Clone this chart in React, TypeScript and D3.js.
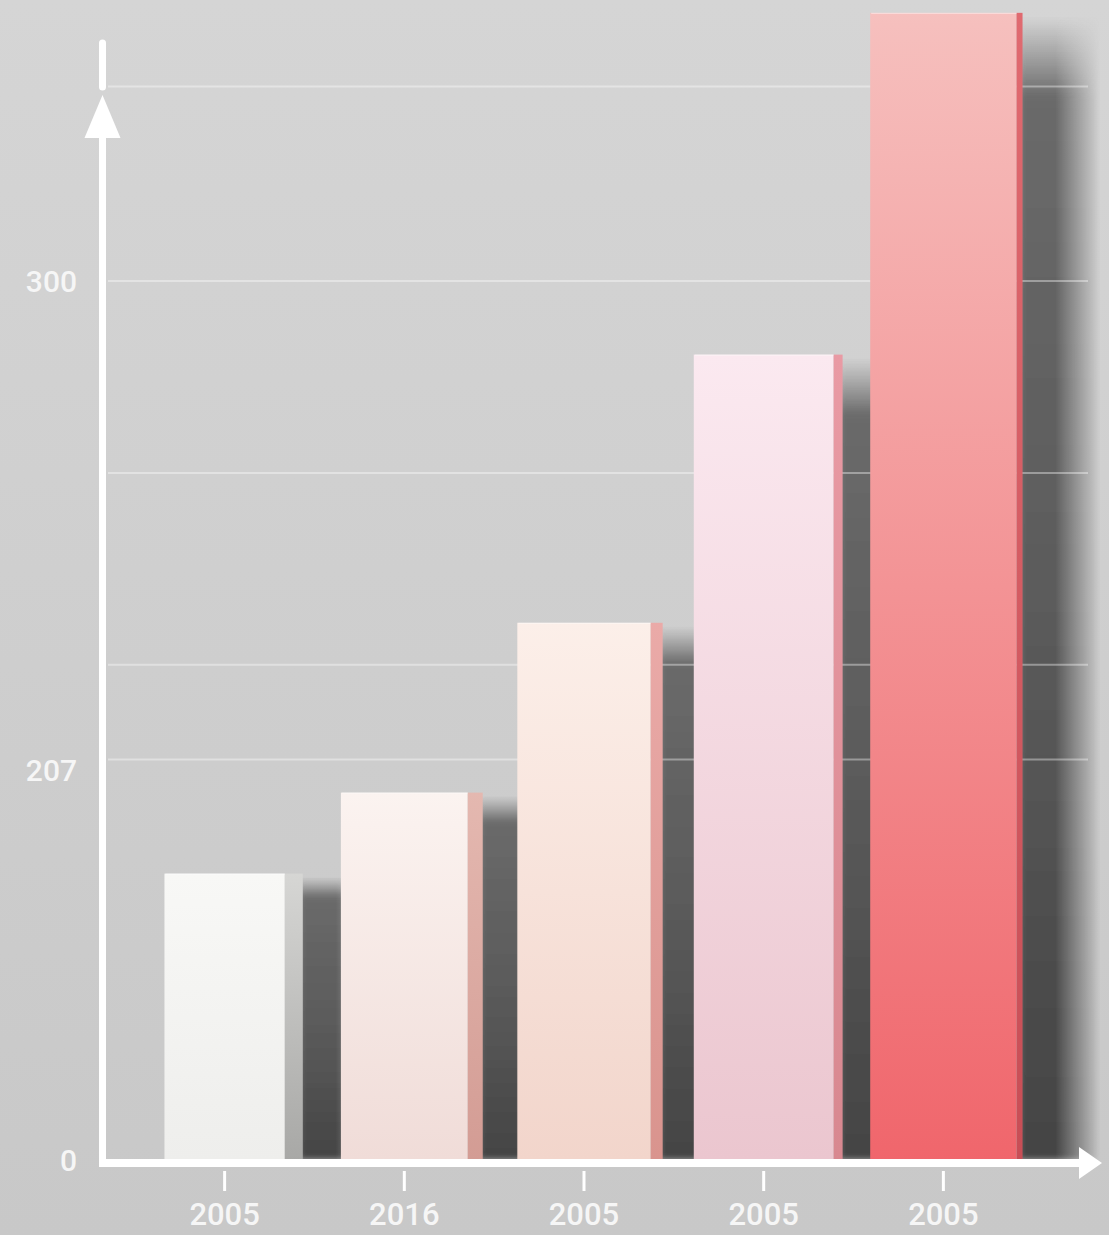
import React from 'react';
import * as d3 from 'd3';

// ---- data ----
const categories = ['2005', '2016', '2005', '2005', '2005'];
const values = [152, 195, 235, 286, 351];
const yTickValues = [0, 207, 300];
const yTickLabels = ['0', '207', '300'];
const gridValues = [209, 227, 263.5, 300, 337];

// ---- colours ----
const frontTop = ['#f8f8f6', '#fbf3f0', '#fcefe9', '#fbe9f0', '#f6c0be'];
const frontBottom = ['#eeeeec', '#f0dcd8', '#f2d5cb', '#ebc6cf', '#f0666c'];
const sideTop = ['#d6d6d4', '#e4b8b0', '#eaaaa8', '#e99aa4', '#e06a70'];
const sideBottom = ['#a8a8a6', '#d39c94', '#d9948e', '#d88890', '#c84e56'];

const W = 1109;
const H = 1235;
const axisX = 102.5;
const axisY = 1163;
const FONT = 'Roboto, "Open Sans", sans-serif';

export default function App() {
  const y = d3.scaleLinear().domain(yTickValues).range([1160, 770, 281]);
  const x = d3
    .scaleBand<number>()
    .domain(d3.range(values.length))
    .range([108, 1072])
    .paddingInner(0.19)
    .paddingOuter(0.3);
  const bw = x.bandwidth();
  const sideW = (i: number) => 18 - 3 * i;
  const barW = (i: number) => bw - 6 + 3.5 * i;
  const barL = (i: number) => x(i)! + bw / 2 - barW(i) / 2;
  const tickX = (i: number) => barL(i) + (barW(i) - sideW(i)) / 2;

  return (
    <svg
      width={W}
      height={H}
      viewBox={`0 0 ${W} ${H}`}
      style={{ position: 'absolute', left: 0, top: 0, display: 'block' }}
    >
      <defs>
        <linearGradient id="bg" x1="0" y1="0" x2="0" y2="1">
          <stop offset="0" stopColor="#d5d5d5" />
          <stop offset="1" stopColor="#c8c8c8" />
        </linearGradient>
        <linearGradient id="shadowV" x1="0" y1="0" x2="0" y2="1">
          <stop offset="0" stopColor="#747474" stopOpacity="0" />
          <stop offset="0.07" stopColor="#6a6a6a" stopOpacity="1" />
          <stop offset="0.6" stopColor="#585858" stopOpacity="1" />
          <stop offset="1" stopColor="#444444" stopOpacity="1" />
        </linearGradient>
        <linearGradient id="hfadeGrad" x1="0" y1="0" x2="1" y2="0">
          <stop offset="0" stopColor="#fff" />
          <stop offset="0.45" stopColor="#fff" />
          <stop offset="1" stopColor="#000" />
        </linearGradient>
        <mask id="hfade" maskContentUnits="objectBoundingBox" x="-0.2" y="-0.1" width="1.4" height="1.2">
          <rect x="0" y="0" width="1" height="1" fill="url(#hfadeGrad)" />
        </mask>
        <filter id="soft" x="-30%" y="-10%" width="160%" height="120%">
          <feGaussianBlur stdDeviation="3" />
        </filter>
        {values.map((_, i) => (
          <React.Fragment key={i}>
            <linearGradient id={`front${i}`} x1="0" y1="0" x2="0" y2="1">
              <stop offset="0" stopColor={frontTop[i]} />
              <stop offset="1" stopColor={frontBottom[i]} />
            </linearGradient>
            <linearGradient id={`side${i}`} x1="0" y1="0" x2="0" y2="1">
              <stop offset="0" stopColor={sideTop[i]} />
              <stop offset="1" stopColor={sideBottom[i]} />
            </linearGradient>
          </React.Fragment>
        ))}
      </defs>

      <rect x={0} y={0} width={W} height={H} fill="url(#bg)" />

      {/* shadows cast on the wall */}
      <g>
        {values.map((v, i) => {
          const right = barL(i) + barW(i);
          const top = y(v);
          return (
            <g key={i} mask="url(#hfade)">
              <rect
                x={right - 4}
                y={top + 4}
                width={82}
                height={y(0) - top - 4}
                fill="url(#shadowV)"
                filter="url(#soft)"
              />
            </g>
          );
        })}
      </g>

      {/* gridlines */}
      <g>
        {gridValues.map((g, i) => (
          <line
            key={i}
            x1={108}
            x2={1088}
            y1={y(g)}
            y2={y(g)}
            stroke="#ffffff"
            strokeOpacity={0.38}
            strokeWidth={2}
          />
        ))}
      </g>

      {/* bars */}
      <g>
        {values.map((v, i) => {
          const left = barL(i);
          const w = barW(i);
          const top = y(v);
          const s = sideW(i);
          const h = y(0) - top;
          return (
            <g key={i}>
              <rect x={left} y={top} width={w - s} height={h} fill={`url(#front${i})`} />
              <rect x={left + w - s} y={top} width={s} height={h} fill={`url(#side${i})`} />
              <line
                x1={left + 1}
                x2={left + w - s}
                y1={top + 0.5}
                y2={top + 0.5}
                stroke="#ffffff"
                strokeOpacity={0.5}
                strokeWidth={1}
              />
            </g>
          );
        })}
      </g>

      {/* y axis */}
      <g fill="#ffffff" stroke="#ffffff">
        <line x1={axisX} x2={axisX} y1={43} y2={87} strokeWidth={7} strokeLinecap="round" />
        <line x1={axisX} x2={axisX} y1={132} y2={axisY + 4} strokeWidth={7} />
        <polygon points={`${axisX - 18},138 ${axisX},95 ${axisX + 18},138`} stroke="none" />
      </g>

      {/* x axis */}
      <g fill="#ffffff" stroke="#ffffff">
        <line x1={axisX - 3.5} x2={1082} y1={axisY} y2={axisY} strokeWidth={8} />
        <polygon points={`1079,1147 1102,${axisY} 1079,1179`} stroke="none" />
        {values.map((_, i) => (
          <line key={i} x1={tickX(i)} x2={tickX(i)} y1={1171} y2={1191} strokeWidth={3} />
        ))}
      </g>

      {/* labels */}
      <g fontFamily={FONT} fill="#f6f6f6" fontWeight={500}>
        {yTickValues.map((t, i) => (
          <text
            key={i}
            x={77}
            y={y(t)}
            textAnchor="end"
            dominantBaseline="central"
            fontSize={30}
          >
            {yTickLabels[i]}
          </text>
        ))}
        {categories.map((c, i) => (
          <text key={i} x={tickX(i)} y={1225} textAnchor="middle" fontSize={31}>
            {c}
          </text>
        ))}
      </g>
    </svg>
  );
}
